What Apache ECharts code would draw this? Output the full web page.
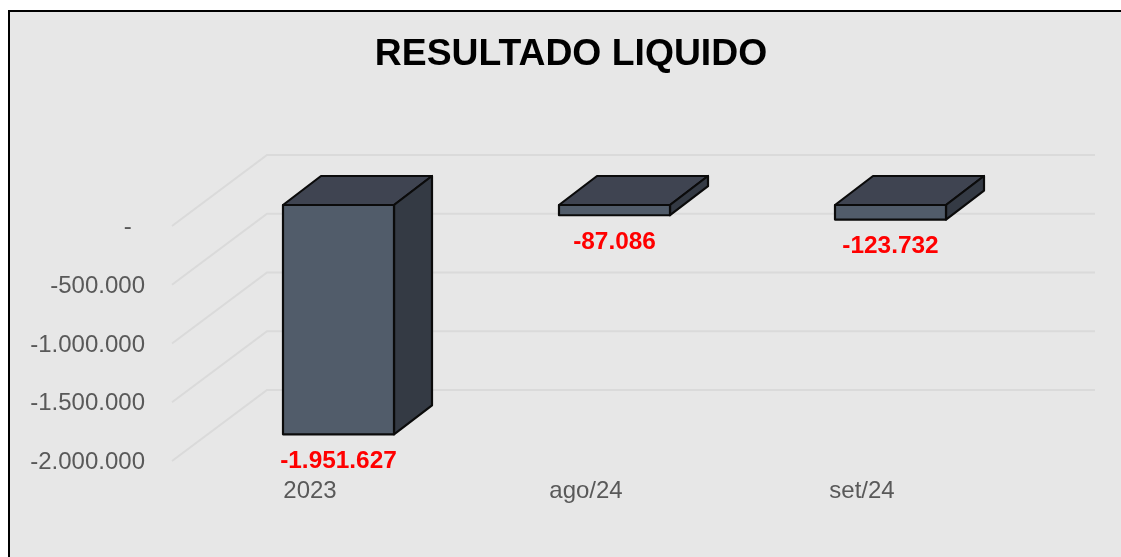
<!DOCTYPE html>
<html><head><meta charset="utf-8">
<style>html,body{margin:0;padding:0;background:#fff}#c{width:1121px;height:557px}</style>
<script src="https://cdn.jsdelivr.net/npm/echarts@6/dist/echarts.min.js"></script>
</head><body><div id="c"></div>
<script>
const titleText = 'RESULTADO LIQUIDO';
const categories = ['2023', 'ago/24', 'set/24'];
const values = [-1951627, -87086, -123732];
const valueLabels = ['-1.951.627', '-87.086', '-123.732'];
const yTicks = [0, -500000, -1000000, -1500000, -2000000];
const yTickLabels = {'0': '-\u00a0\u00a0', '-500000': '-500.000', '-1000000': '-1.000.000', '-1500000': '-1.500.000', '-2000000': '-2.000.000'};

const FONT = '"Liberation Sans", Arial, sans-serif';
const WALL = [95, -71], BAR_SHIFT = [28.5, -21], BAR_DEPTH = [38, -29];
const WALL_RIGHT = 1095, BAR_W = 111;
const EDGE = {stroke: '#0b0b0b', lineWidth: 2.2, lineJoin: 'round'};

function renderWall(params, api) {
  const p = api.coord([0, api.value(1)]);
  const x0 = params.coordSys.x;
  return {
    type: 'polyline', silent: true,
    shape: {points: [[x0, p[1]], [x0 + WALL[0], p[1] + WALL[1]], [WALL_RIGHT, p[1] + WALL[1]]]},
    style: {fill: 'none', stroke: '#dadada', lineWidth: 2}
  };
}
function renderBar(params, api) {
  const i = api.value(0);
  const top = api.coord([i, 0]);
  const bot = api.coord([i, api.value(1)]);
  const l = top[0] + BAR_SHIFT[0] - BAR_W / 2, r = l + BAR_W;
  const t = top[1] + BAR_SHIFT[1], b = bot[1] + BAR_SHIFT[1];
  const dx = BAR_DEPTH[0], dy = BAR_DEPTH[1];
  return {
    type: 'group',
    children: [
      {type: 'polygon', shape: {points: [[l, t], [l + dx, t + dy], [r + dx, t + dy], [r, t]]}, style: Object.assign({fill: '#3f4451'}, EDGE)},
      {type: 'polygon', shape: {points: [[r, t], [r + dx, t + dy], [r + dx, b + dy], [r, b]]}, style: Object.assign({fill: '#343a44'}, EDGE)},
      {type: 'polygon', shape: {points: [[l, t], [r, t], [r, b], [l, b]]}, style: Object.assign({fill: '#515c6a'}, EDGE)},
      {type: 'text', style: {x: (l + r) / 2, y: b + 27, text: valueLabels[params.dataIndex], fill: '#ff0000',
        font: 'bold 24.4px ' + FONT, textAlign: 'center', textVerticalAlign: 'middle'}}
    ]
  };
}

const chart = echarts.init(document.getElementById('c'), null, {renderer: 'canvas'});
chart.setOption({
  animation: false,
  backgroundColor: '#ffffff',
  title: {text: titleText, left: 566, top: 31, textAlign: 'center',
    textStyle: {fontFamily: FONT, fontWeight: 'bold', fontSize: 37.3, color: '#000'}},
  graphic: [{type: 'rect', z: -10, silent: true, shape: {x: 9, y: 11, width: 1300, height: 700},
    style: {fill: '#e7e7e7', stroke: '#000', lineWidth: 2}}],
  grid: {left: 172, width: 828, top: 226, height: 235, containLabel: false},
  xAxis: {type: 'category', data: categories, axisLine: {show: false}, axisTick: {show: false}, splitLine: {show: false},
    axisLabel: {margin: 18, fontFamily: FONT, fontSize: 24, color: '#595959'}},
  yAxis: {type: 'value', min: -2000000, max: 0, interval: 500000, axisLine: {show: false}, axisTick: {show: false}, splitLine: {show: false},
    axisLabel: {margin: 27, fontFamily: FONT, fontSize: 24, color: '#595959',
      formatter: v => '{a|' + yTickLabels[String(v)] + '}',
      rich: {a: {fontFamily: FONT, fontSize: 24, color: '#595959', padding: [3, 0, 0, 0]}}}},
  series: [
    {type: 'custom', name: 'grade', renderItem: renderWall, clip: false, silent: true, z: 1,
      encode: {x: 0, y: 1}, data: yTicks.map(t => [0, t])},
    {type: 'custom', name: 'Resultado', renderItem: renderBar, clip: false, z: 2,
      encode: {x: 0, y: 1}, data: values.map((v, i) => [i, v])}
  ]
});
</script></body></html>
